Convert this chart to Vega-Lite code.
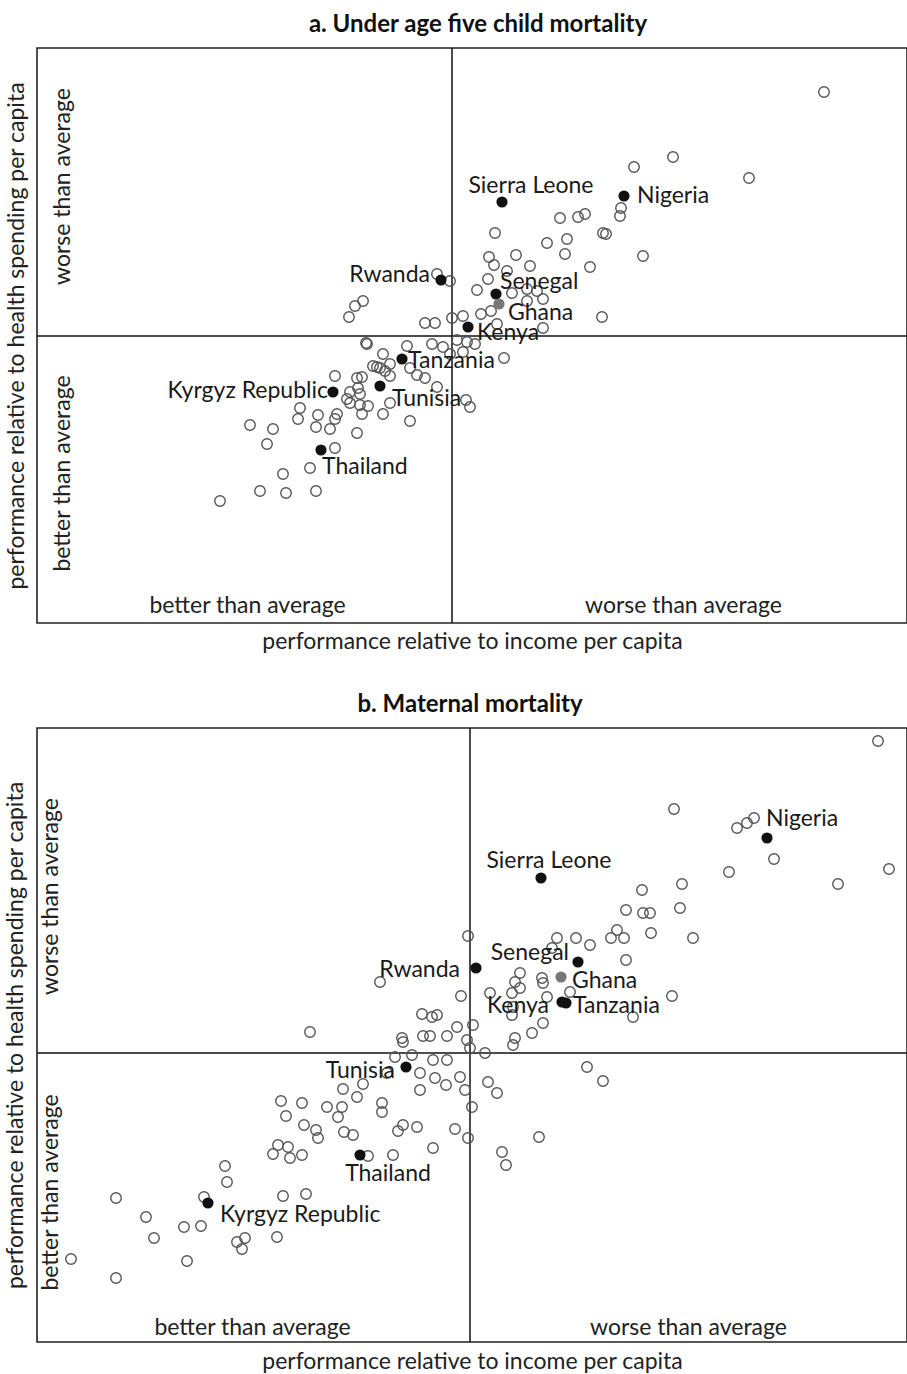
{
  "$schema": "https://vega.github.io/schema/vega-lite/v6.json",
  "padding": {"left": 3, "top": 12, "right": 0, "bottom": 0},
  "background": "white",
  "columns": 1,
  "spacing": 38,
  "config": {
    "view": {"stroke": "#222", "strokeWidth": 1.6},
    "font": "Lato",
    "axis": {
      "ticks": false, "tickSize": 0, "domain": false, "grid": false,
      "labelFont": "Lato", "labelFontSize": 23, "labelColor": "#222", "labelLimit": 0,
      "labelFlush": false, "labelOverlap": false, "labelBaseline": "middle",
      "titleFont": "Lato", "titleFontSize": 23, "titleFontWeight": "normal", "titleColor": "#222", "titleLimit": 0
    },
    "text": {"font": "Lato", "fontSize": 23, "color": "#1a1a1a", "baseline": "middle"}
  },
  "datasets": {
    "a": [
      {"x":372,"y":244},{"x":221,"y":179},{"x":182,"y":169},{"x":297,"y":158},{"x":169,"y":128},{"x":168,"y":120},
      {"x":43,"y":103},{"x":108,"y":118},{"x":126,"y":119},{"x":133,"y":122},{"x":151,"y":103},{"x":154,"y":102},
      {"x":95,"y":93},{"x":115,"y":97},{"x":113,"y":82},{"x":191,"y":80},{"x":64,"y":81},{"x":37,"y":79},
      {"x":42,"y":71},{"x":78,"y":70},{"x":138,"y":69},{"x":55,"y":65},{"x":36,"y":57},{"x":-15,"y":62},
      {"x":-2,"y":55},{"x":25,"y":46},{"x":60,"y":43},{"x":75,"y":47},{"x":75,"y":35},{"x":91,"y":37},
      {"x":85,"y":45},{"x":150,"y":19},{"x":0,"y":18},{"x":11,"y":20},{"x":29,"y":22},{"x":39,"y":25},
      {"x":45,"y":12},{"x":-27,"y":13},{"x":-17,"y":13},{"x":91,"y":8},{"x":-89,"y":35},{"x":-97,"y":30},
      {"x":-103,"y":19},{"x":-86,"y":-7},{"x":-45,"y":-10},{"x":-20,"y":-8},{"x":-9,"y":-11},{"x":5,"y":-4},
      {"x":15,"y":-6},{"x":23,"y":-8},{"x":-2,"y":-18},{"x":11,"y":-16},{"x":52,"y":-22},{"x":-69,"y":-18},
      {"x":-75,"y":-31},{"x":-62,"y":-28},{"x":-67,"y":-35},{"x":-42,"y":-32},{"x":-35,"y":-39},{"x":-27,"y":-42},
      {"x":-15,"y":-51},{"x":-117,"y":-40},{"x":-95,"y":-42},{"x":-90,"y":-41},{"x":-102,"y":-56},{"x":-94,"y":-52},
      {"x":-105,"y":-63},{"x":-92,"y":-58},{"x":-102,"y":-67},{"x":-92,"y":-69},{"x":-84,"y":-70},{"x":-90,"y":-78},
      {"x":-62,"y":-67},{"x":-69,"y":-78},{"x":-62,"y":-40},{"x":14,"y":-64},{"x":18,"y":-71},{"x":-152,"y":-72},
      {"x":-154,"y":-83},{"x":-134,"y":-79},{"x":-115,"y":-78},{"x":-117,"y":-83},{"x":-136,"y":-91},{"x":-122,"y":-93},
      {"x":-95,"y":-97},{"x":-42,"y":-85},{"x":-202,"y":-89},{"x":-179,"y":-93},{"x":-185,"y":-108},{"x":-117,"y":-112},
      {"x":-142,"y":-132},{"x":-169,"y":-138},{"x":-192,"y":-155},{"x":-166,"y":-157},{"x":-136,"y":-155},{"x":-232,"y":-165},
      {"x":-85,"y":-8},{"x":-79,"y":-30},{"x":-72,"y":-32},
      {"x":50,"y":134,"c":"Sierra Leone"},{"x":172,"y":140,"c":"Nigeria"},{"x":-11,"y":56,"c":"Rwanda"},
      {"x":44,"y":42,"c":"Senegal"},{"x":47,"y":32,"c":"Ghana"},{"x":16,"y":9,"c":"Kenya"},
      {"x":-50,"y":-23,"c":"Tanzania"},{"x":-119,"y":-56,"c":"Kyrgyz Republic"},{"x":-72,"y":-50,"c":"Tunisia"},
      {"x":-131,"y":-114,"c":"Thailand"}
    ],
    "b": [
      {"x":408,"y":312},{"x":204,"y":244},{"x":267,"y":225},{"x":277,"y":230},{"x":284,"y":235},{"x":304,"y":194},
      {"x":419,"y":184},{"x":368,"y":169},{"x":259,"y":181},{"x":212,"y":169},{"x":172,"y":163},{"x":156,"y":143},
      {"x":173,"y":140},{"x":180,"y":140},{"x":210,"y":145},{"x":223,"y":115},{"x":181,"y":120},{"x":147,"y":123},
      {"x":141,"y":115},{"x":154,"y":115},{"x":156,"y":93},{"x":120,"y":108},{"x":106,"y":115},{"x":87,"y":115},
      {"x":-2,"y":117},{"x":82,"y":105},{"x":50,"y":80},{"x":45,"y":71},{"x":50,"y":65},{"x":42,"y":60},
      {"x":72,"y":75},{"x":73,"y":70},{"x":100,"y":61},{"x":77,"y":56},{"x":20,"y":60},{"x":-9,"y":57},
      {"x":202,"y":57},{"x":163,"y":36},{"x":43,"y":46},{"x":42,"y":38},{"x":73,"y":30},{"x":62,"y":20},
      {"x":45,"y":15},{"x":43,"y":8},{"x":-48,"y":39},{"x":-38,"y":36},{"x":-33,"y":38},{"x":-13,"y":26},
      {"x":3,"y":28},{"x":-47,"y":17},{"x":-40,"y":17},{"x":-23,"y":17},{"x":-68,"y":15},{"x":-67,"y":11},
      {"x":-3,"y":13},{"x":0,"y":5},{"x":15,"y":0},{"x":-75,"y":-4},{"x":-58,"y":-2},{"x":-37,"y":-7},
      {"x":-23,"y":-7},{"x":-50,"y":-20},{"x":-35,"y":-25},{"x":-10,"y":-24},{"x":-24,"y":-32},{"x":-50,"y":-37},
      {"x":18,"y":-29},{"x":27,"y":-40},{"x":-5,"y":-37},{"x":2,"y":-54},{"x":-88,"y":-50},{"x":-88,"y":-59},
      {"x":117,"y":-14},{"x":133,"y":-28},{"x":-67,"y":-72},{"x":-72,"y":-78},{"x":-53,"y":-74},{"x":-15,"y":-76},
      {"x":-2,"y":-85},{"x":69,"y":-84},{"x":32,"y":-99},{"x":36,"y":-112},{"x":-37,"y":-95},{"x":-77,"y":-102},
      {"x":-102,"y":-103},{"x":-90,"y":71},{"x":-160,"y":21},{"x":-83,"y":-20},{"x":-107,"y":-31},{"x":-127,"y":-36},
      {"x":-113,"y":-44},{"x":-143,"y":-54},{"x":-128,"y":-54},{"x":-132,"y":-64},{"x":-168,"y":-50},{"x":-189,"y":-48},
      {"x":-184,"y":-63},{"x":-166,"y":-72},{"x":-154,"y":-77},{"x":-152,"y":-85},{"x":-126,"y":-79},{"x":-117,"y":-82},
      {"x":-192,"y":-92},{"x":-182,"y":-94},{"x":-197,"y":-101},{"x":-180,"y":-105},{"x":-168,"y":-102},{"x":-245,"y":-113},
      {"x":-243,"y":-129},{"x":-266,"y":-144},{"x":-187,"y":-143},{"x":-164,"y":-141},{"x":-354,"y":-145},{"x":-324,"y":-164},
      {"x":-316,"y":-185},{"x":-286,"y":-174},{"x":-269,"y":-173},{"x":-233,"y":-189},{"x":-225,"y":-185},{"x":-228,"y":-196},
      {"x":-193,"y":-184},{"x":-283,"y":-208},{"x":-399,"y":-206},{"x":-354,"y":-225},
      {"x":297,"y":215,"c":"Nigeria"},{"x":71,"y":175,"c":"Sierra Leone"},{"x":108,"y":91,"c":"Senegal"},
      {"x":6,"y":85,"c":"Rwanda"},{"x":91,"y":76,"c":"Ghana"},{"x":92,"y":51,"c":"Kenya"},
      {"x":96,"y":50,"c":"Tanzania"},{"x":-64,"y":-14,"c":"Tunisia"},{"x":-110,"y":-102,"c":"Thailand"},
      {"x":-262,"y":-150,"c":"Kyrgyz Republic"}
    ]
  },
  "concat": [
    {
      "width": 870, "height": 575,
      "title": {"text": "a. Under age five child mortality", "fontSize": 24, "fontWeight": "bold", "font": "Lato", "offset": 10, "color": "#111", "dx": 6},
      "data": {"name": "a"},
      "layer": [
        {"data": {"values": [{}]}, "mark": {"type": "rule", "color": "#111", "strokeWidth": 1.5}, "encoding": {"x": {"datum": 0, "type": "quantitative"}}},
        {"data": {"values": [{}]}, "mark": {"type": "rule", "color": "#111", "strokeWidth": 1.5}, "encoding": {"y": {"datum": 0, "type": "quantitative"}}},
        {
          "transform": [{"filter": "!datum.c"}],
          "mark": {"type": "point", "shape": "circle", "filled": false, "color": "#555", "strokeWidth": 1.4, "size": 110, "opacity": 1},
          "encoding": {
            "x": {"field": "x", "type": "quantitative", "scale": {"domain": [-415, 455], "nice": false, "zero": false},
              "axis": {"values": [-205, 231], "labelExpr": "datum.value < 0 ? 'better than average' : 'worse than average'", "labelPadding": -18, "title": "performance relative to income per capita", "titlePadding": 7}},
            "y": {"field": "y", "type": "quantitative", "scale": {"domain": [-287, 288], "nice": false, "zero": false},
              "axis": {"values": [-137, 150], "labelExpr": "datum.value < 0 ? 'better than average' : 'worse than average'", "labelAngle": 270, "labelAlign": "center", "labelPadding": -25, "title": "performance relative to health spending per capita", "titlePadding": 9}}
          }
        },
        {
          "transform": [{"filter": "datum.c"}],
          "mark": {"type": "point", "shape": "circle", "filled": true, "size": 125, "opacity": 1},
          "encoding": {
            "x": {"field": "x", "type": "quantitative"},
            "y": {"field": "y", "type": "quantitative"},
            "color": {"condition": {"test": "datum.c === 'Ghana'", "value": "#777"}, "value": "#111"}
          }
        },
        {"transform": [{"filter": "datum.c === 'Sierra Leone'"}], "mark": {"type": "text", "align": "center", "dx": 29, "dy": -16}, "encoding": {"x": {"field": "x", "type": "quantitative"}, "y": {"field": "y", "type": "quantitative"}, "text": {"field": "c"}}},
        {"transform": [{"filter": "datum.c === 'Nigeria'"}], "mark": {"type": "text", "align": "left", "dx": 13, "dy": 0}, "encoding": {"x": {"field": "x", "type": "quantitative"}, "y": {"field": "y", "type": "quantitative"}, "text": {"field": "c"}}},
        {"transform": [{"filter": "datum.c === 'Rwanda'"}], "mark": {"type": "text", "align": "right", "dx": -11, "dy": -5}, "encoding": {"x": {"field": "x", "type": "quantitative"}, "y": {"field": "y", "type": "quantitative"}, "text": {"field": "c"}}},
        {"transform": [{"filter": "datum.c === 'Senegal'"}], "mark": {"type": "text", "align": "left", "dx": 4, "dy": -12}, "encoding": {"x": {"field": "x", "type": "quantitative"}, "y": {"field": "y", "type": "quantitative"}, "text": {"field": "c"}}},
        {"transform": [{"filter": "datum.c === 'Ghana'"}], "mark": {"type": "text", "align": "left", "dx": 9, "dy": 9}, "encoding": {"x": {"field": "x", "type": "quantitative"}, "y": {"field": "y", "type": "quantitative"}, "text": {"field": "c"}}},
        {"transform": [{"filter": "datum.c === 'Kenya'"}], "mark": {"type": "text", "align": "left", "dx": 9, "dy": 6}, "encoding": {"x": {"field": "x", "type": "quantitative"}, "y": {"field": "y", "type": "quantitative"}, "text": {"field": "c"}}},
        {"transform": [{"filter": "datum.c === 'Tanzania'"}], "mark": {"type": "text", "align": "left", "dx": 6, "dy": 2}, "encoding": {"x": {"field": "x", "type": "quantitative"}, "y": {"field": "y", "type": "quantitative"}, "text": {"field": "c"}}},
        {"transform": [{"filter": "datum.c === 'Kyrgyz Republic'"}], "mark": {"type": "text", "align": "right", "dx": -5, "dy": -1}, "encoding": {"x": {"field": "x", "type": "quantitative"}, "y": {"field": "y", "type": "quantitative"}, "text": {"field": "c"}}},
        {"transform": [{"filter": "datum.c === 'Tunisia'"}], "mark": {"type": "text", "align": "left", "dx": 12, "dy": 13}, "encoding": {"x": {"field": "x", "type": "quantitative"}, "y": {"field": "y", "type": "quantitative"}, "text": {"field": "c"}}},
        {"transform": [{"filter": "datum.c === 'Thailand'"}], "mark": {"type": "text", "align": "left", "dx": 1, "dy": 17}, "encoding": {"x": {"field": "x", "type": "quantitative"}, "y": {"field": "y", "type": "quantitative"}, "text": {"field": "c"}}}
      ]
    },
    {
      "width": 870, "height": 614,
      "title": {"text": "b. Maternal mortality", "fontSize": 24, "fontWeight": "bold", "font": "Lato", "offset": 10, "color": "#111", "dx": -2},
      "data": {"name": "b"},
      "layer": [
        {"data": {"values": [{}]}, "mark": {"type": "rule", "color": "#111", "strokeWidth": 1.5}, "encoding": {"x": {"datum": 0, "type": "quantitative"}}},
        {"data": {"values": [{}]}, "mark": {"type": "rule", "color": "#111", "strokeWidth": 1.5}, "encoding": {"y": {"datum": 0, "type": "quantitative"}}},
        {
          "transform": [{"filter": "!datum.c"}],
          "mark": {"type": "point", "shape": "circle", "filled": false, "color": "#555", "strokeWidth": 1.4, "size": 110, "opacity": 1},
          "encoding": {
            "x": {"field": "x", "type": "quantitative", "scale": {"domain": [-433, 437], "nice": false, "zero": false},
              "axis": {"values": [-218, 218], "labelExpr": "datum.value < 0 ? 'better than average' : 'worse than average'", "labelPadding": -15, "title": "performance relative to income per capita", "titlePadding": 8}},
            "y": {"field": "y", "type": "quantitative", "scale": {"domain": [-289, 325], "nice": false, "zero": false},
              "axis": {"values": [-139, 157], "labelExpr": "datum.value < 0 ? 'better than average' : 'worse than average'", "labelAngle": 270, "labelAlign": "center", "labelPadding": -13, "title": "performance relative to health spending per capita", "titlePadding": 10}}
          }
        },
        {
          "transform": [{"filter": "datum.c"}],
          "mark": {"type": "point", "shape": "circle", "filled": true, "size": 125, "opacity": 1},
          "encoding": {
            "x": {"field": "x", "type": "quantitative"},
            "y": {"field": "y", "type": "quantitative"},
            "color": {"condition": {"test": "datum.c === 'Ghana'", "value": "#777"}, "value": "#111"}
          }
        },
        {"transform": [{"filter": "datum.c === 'Nigeria'"}], "mark": {"type": "text", "align": "left", "dx": -1, "dy": -19}, "encoding": {"x": {"field": "x", "type": "quantitative"}, "y": {"field": "y", "type": "quantitative"}, "text": {"field": "c"}}},
        {"transform": [{"filter": "datum.c === 'Sierra Leone'"}], "mark": {"type": "text", "align": "center", "dx": 8, "dy": -17}, "encoding": {"x": {"field": "x", "type": "quantitative"}, "y": {"field": "y", "type": "quantitative"}, "text": {"field": "c"}}},
        {"transform": [{"filter": "datum.c === 'Senegal'"}], "mark": {"type": "text", "align": "right", "dx": -9, "dy": -9}, "encoding": {"x": {"field": "x", "type": "quantitative"}, "y": {"field": "y", "type": "quantitative"}, "text": {"field": "c"}}},
        {"transform": [{"filter": "datum.c === 'Rwanda'"}], "mark": {"type": "text", "align": "right", "dx": -16, "dy": 2}, "encoding": {"x": {"field": "x", "type": "quantitative"}, "y": {"field": "y", "type": "quantitative"}, "text": {"field": "c"}}},
        {"transform": [{"filter": "datum.c === 'Ghana'"}], "mark": {"type": "text", "align": "left", "dx": 11, "dy": 4}, "encoding": {"x": {"field": "x", "type": "quantitative"}, "y": {"field": "y", "type": "quantitative"}, "text": {"field": "c"}}},
        {"transform": [{"filter": "datum.c === 'Kenya'"}], "mark": {"type": "text", "align": "right", "dx": -13, "dy": 4}, "encoding": {"x": {"field": "x", "type": "quantitative"}, "y": {"field": "y", "type": "quantitative"}, "text": {"field": "c"}}},
        {"transform": [{"filter": "datum.c === 'Tanzania'"}], "mark": {"type": "text", "align": "left", "dx": 7, "dy": 3}, "encoding": {"x": {"field": "x", "type": "quantitative"}, "y": {"field": "y", "type": "quantitative"}, "text": {"field": "c"}}},
        {"transform": [{"filter": "datum.c === 'Tunisia'"}], "mark": {"type": "text", "align": "right", "dx": -11, "dy": 4}, "encoding": {"x": {"field": "x", "type": "quantitative"}, "y": {"field": "y", "type": "quantitative"}, "text": {"field": "c"}}},
        {"transform": [{"filter": "datum.c === 'Thailand'"}], "mark": {"type": "text", "align": "center", "dx": 28, "dy": 19}, "encoding": {"x": {"field": "x", "type": "quantitative"}, "y": {"field": "y", "type": "quantitative"}, "text": {"field": "c"}}},
        {"transform": [{"filter": "datum.c === 'Kyrgyz Republic'"}], "mark": {"type": "text", "align": "left", "dx": 12, "dy": 12}, "encoding": {"x": {"field": "x", "type": "quantitative"}, "y": {"field": "y", "type": "quantitative"}, "text": {"field": "c"}}}
      ]
    }
  ]
}
